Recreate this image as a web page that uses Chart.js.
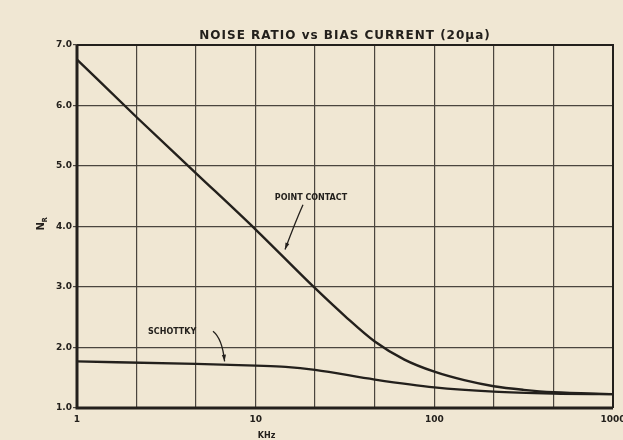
<!DOCTYPE html>
<html>
<head>
<meta charset="utf-8">
<script src="https://cdn.jsdelivr.net/npm/chart.js@4/dist/chart.umd.min.js"></script>
<style>
  html, body { margin: 0; padding: 0; background: #f0e7d3; }
  #wrap { width: 623px; height: 440px; position: relative; }
</style>
</head>
<body>
<div id="wrap"><canvas id="noise_ratio"></canvas></div>
<script>
// frequency in kHz, noise ratio N_R
var pcFreq = [1, 2.15, 4.64, 10, 21.5, 31.6, 46.4, 68, 100, 147, 215, 316, 464, 1000];
var pcNr   = [6.76, 5.81, 4.88, 3.95, 2.98, 2.52, 2.10, 1.80, 1.60, 1.46, 1.36, 1.30, 1.26, 1.23];
var skFreq = [1, 4.64, 10, 14.7, 21.5, 46.4, 100, 215, 464, 1000];
var skNr   = [1.77, 1.73, 1.70, 1.68, 1.63, 1.47, 1.34, 1.27, 1.24, 1.23];

// log grid: three lines per decade, labels on the decades
var xGrid = [1, 2.15, 4.64, 10, 21.5, 46.4, 100, 215, 464, 1000];
var xLabels = { 1: '1', 10: '10', 100: '100', 1000: '1000' };
var yTicks = [1, 2, 3, 4, 5, 6, 7];

var ink = '#23201c';
var gridInk = '#4a453e';

function pts(xs, ys) {
   return xs.map(function (x, i) { return { x: x, y: ys[i] }; });
}

var notes = {
   id: 'notes',
   afterDraw: function (chart) {
      var ctx = chart.ctx, xs = chart.scales.x, ys = chart.scales.y, a = chart.chartArea;
      var px = function (v) { return xs.getPixelForValue(v); };
      var py = function (v) { return ys.getPixelForValue(v); };

      ctx.save();
      // heavier frame on the left and bottom
      ctx.strokeStyle = ink;
      ctx.lineWidth = 3;
      ctx.beginPath();
      ctx.moveTo(a.left, a.top);
      ctx.lineTo(a.left, a.bottom);
      ctx.lineTo(a.right, a.bottom);
      ctx.stroke();
      ctx.lineWidth = 2;
      ctx.beginPath();
      ctx.moveTo(a.left, a.top);
      ctx.lineTo(a.right, a.top);
      ctx.lineTo(a.right, a.bottom);
      ctx.stroke();

      ctx.fillStyle = ink;
      ctx.textBaseline = 'alphabetic';
      ctx.textAlign = 'center';
      ctx.font = 'bold 12px "DejaVu Sans"';
      ctx.letterSpacing = '1px';
      ctx.fillText('NOISE RATIO vs BIAS CURRENT (20\u00b5a)', (a.left + a.right) / 2, a.top - 6);
      ctx.letterSpacing = '0px';

      ctx.font = 'bold 8px "DejaVu Sans"';
      ctx.fillText('KHz', px(11.5), 438);

      // y axis name, N with subscript R
      ctx.save();
      ctx.translate(44, (a.top + a.bottom) / 2 - 2);
      ctx.rotate(-Math.PI / 2);
      ctx.font = 'bold 10px "DejaVu Sans"';
      ctx.textAlign = 'left';
      ctx.fillText('N', -6, 0);
      ctx.font = 'bold 7px "DejaVu Sans"';
      ctx.fillText('R', 2, 3);
      ctx.restore();

      // curve labels with pointers
      ctx.font = 'bold 8px "DejaVu Sans"';
      ctx.textAlign = 'left';
      ctx.fillText('POINT CONTACT', px(12.8), py(4.43));
      ctx.fillText('SCHOTTKY', px(2.5), py(2.22));

      ctx.lineWidth = 1.3;
      arrow(ctx, px(18.4), py(4.36), px(14.6), py(3.62), px(16.8), py(4.1));
      arrow(ctx, px(5.77), py(2.27), px(6.7), py(1.77), px(6.5), py(2.15));
      ctx.restore();
   }
};

function arrow(ctx, x0, y0, x1, y1, cx, cy) {
   ctx.beginPath();
   ctx.moveTo(x0, y0);
   ctx.quadraticCurveTo(cx, cy, x1, y1);
   ctx.stroke();
   var ang = Math.atan2(y1 - cy, x1 - cx);
   ctx.beginPath();
   ctx.moveTo(x1, y1);
   ctx.lineTo(x1 - 7 * Math.cos(ang - 0.3), y1 - 7 * Math.sin(ang - 0.3));
   ctx.lineTo(x1 - 7 * Math.cos(ang + 0.3), y1 - 7 * Math.sin(ang + 0.3));
   ctx.closePath();
   ctx.fill();
}

var config = {
   type: 'line',
   data: {
      datasets: [{
         label: 'Point Contact',
         data: pts(pcFreq, pcNr),
         borderColor: ink,
         borderWidth: 2.4,
         pointRadius: 0,
         cubicInterpolationMode: 'monotone'
      }, {
         label: 'Schottky',
         data: pts(skFreq, skNr),
         borderColor: ink,
         borderWidth: 2.4,
         pointRadius: 0,
         cubicInterpolationMode: 'monotone'
      }]
   },
   options: {
      responsive: false,
      animation: false,
      layout: { padding: { top: 45, right: 10, left: 0, bottom: 0 } },
      plugins: { legend: false, tooltip: { enabled: false } },
      scales: {
         x: {
            type: 'logarithmic',
            min: 1,
            max: 1000,
            afterBuildTicks: function (scale) {
               scale.ticks = xGrid.map(function (v) { return { value: v }; });
            },
            afterFit: function (scale) {
               scale.height = 32;
               scale.paddingLeft = 0;
               scale.paddingRight = 0;
            },
            grid: { color: gridInk, lineWidth: 1.2, tickLength: 4, drawTicks: false },
            border: { display: false },
            ticks: {
               autoSkip: false,
               maxRotation: 0,
               padding: 6,
               color: ink,
               font: { family: 'DejaVu Sans', size: 9, weight: 'bold' },
               callback: function (v) { return xLabels[v] || ''; }
            }
         },
         y: {
            min: 1,
            max: 7,
            afterBuildTicks: function (scale) {
               scale.ticks = yTicks.map(function (v) { return { value: v }; });
            },
            afterFit: function (scale) {
               scale.width = 77;
               scale.paddingTop = 0;
               scale.paddingBottom = 0;
            },
            grid: { color: gridInk, lineWidth: 1.2, tickLength: 4 },
            border: { display: false },
            ticks: {
               padding: 1,
               color: ink,
               font: { family: 'DejaVu Sans', size: 9, weight: 'bold' },
               callback: function (v) { return v.toFixed(1); }
            }
         }
      }
   },
   plugins: [notes]
};

var cv = document.getElementById('noise_ratio');
cv.width = 623;
cv.height = 440;
new Chart(cv.getContext('2d'), config);
</script>
</body>
</html>
